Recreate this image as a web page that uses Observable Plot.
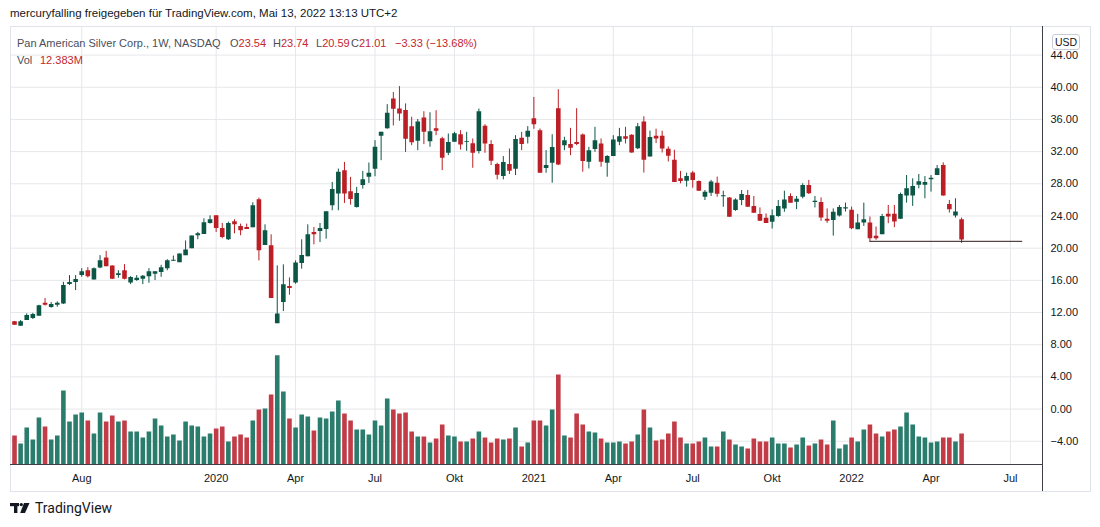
<!DOCTYPE html>
<html>
<head>
<meta charset="utf-8">
<script src="https://cdn.jsdelivr.net/npm/d3@7"></script>
<script src="https://cdn.jsdelivr.net/npm/@observablehq/plot@0.6"></script>
<style>
  body { margin: 0; background: #fff; font-family: "Liberation Sans", Arial, sans-serif; color: #131722; }
  #wrap { position: relative; width: 1100px; height: 527px; overflow: hidden; }
  #chart { position: absolute; left: 0; top: 0; }
  .abs { position: absolute; white-space: nowrap; }
  #hdr { left: 10px; top: 7px; font-size: 11.5px; color: #131722; }
  .lg { font-size: 11px; top: 37px; }
  .lg2 { font-size: 11px; top: 54px; }
  .gray { color: #4a4e59; }
  .red { color: #c4262e; }
  #usd { left: 1052px; top: 34px; width: 26px; height: 14px; border: 1px solid #c9ccd3; border-radius: 3px;
         background: #fff; font-size: 10.5px; line-height: 14px; text-align: center; color: #131722; }
  #frame { left: 10px; top: 26px; width: 1079px; height: 464px; border: 1px solid #e0e3eb; }
  #vline { left: 1042px; top: 26px; width: 1px; height: 465px; background: #3c3f48; }
  #hline { left: 10px; top: 464px; width: 1032px; height: 1px; background: #3c3f48; }
  #logo { left: 10px; top: 500px; font-size: 14px; font-family: Roboto, "Liberation Sans", sans-serif; color: #131722; display: flex; align-items: center; gap: 5px; }
</style>
</head>
<body>
<div id="wrap">
  <div id="chart"></div>
  <div id="frame" class="abs"></div>
  <div id="vline" class="abs"></div>
  <div id="hline" class="abs"></div>
  <div id="hdr" class="abs">mercuryfalling freigegeben für TradingView.com, Mai 13, 2022 13:13 UTC+2</div>
  <div class="abs lg gray" style="left:17px">Pan American Silver Corp., 1W, NASDAQ</div>
  <div class="abs lg" style="left:230px"><span class="gray">O</span><span class="red">23.54</span></div>
  <div class="abs lg" style="left:273px"><span class="gray">H</span><span class="red">23.74</span></div>
  <div class="abs lg" style="left:316px"><span class="gray">L</span><span class="red">20.59</span></div>
  <div class="abs lg" style="left:351px"><span class="gray">C</span><span class="red">21.01</span></div>
  <div class="abs lg red" style="left:395px">−3.33 (−13.68%)</div>
  <div class="abs lg2 gray" style="left:17px">Vol</div>
  <div class="abs lg2 red" style="left:40px">12.383M</div>
  <div id="usd" class="abs">USD</div>
  <div id="logo" class="abs">
    <svg width="20" height="12" viewBox="0 0 20 12">
      <rect x="0" y="1" width="9" height="3.2" fill="#131722"/>
      <rect x="4" y="1" width="3.4" height="10" fill="#131722"/>
      <circle cx="11.3" cy="2.6" r="1.7" fill="#131722"/>
      <polygon points="14,1 19.5,1 15,11 10.2,11" fill="#131722"/>
    </svg>
    <span>TradingView</span>
  </div>
</div>
<script>
// ---- data (weekly bars, first bar week of 2019-05-13) ----
const firstWeek = "2019-05-13";
const opens = [11.8,10.84,10.3,11.0,11.26,11.55,13.16,12.62,12.9,13.07,
15.47,15.72,16.59,17.2,16.05,17.54,18.78,17.79,16.59,17.2,
15.68,15.97,16.13,16.46,16.75,16.96,17.45,18.36,18.2,19.07,
19.93,21.55,21.71,23.07,24.02,22.45,21.04,23.28,22.7,22.57,
22.53,26.02,20.33,20.29,10.62,13.24,15.23,15.68,18.09,18.92,
21.95,22.07,22.32,25.27,26.72,29.63,27.01,25.06,27.8,28.8,
29.8,33.9,34.85,38.55,37.3,37.1,35.1,33.28,36.17,33.24,
34.85,33.6,31.79,33.16,34.1,33.12,32.99,32.0,35.14,32.87,
30.39,28.9,30.39,29.81,33.65,33.78,36.1,34.6,29.9,30.55,
37.33,32.74,32.87,33.12,34.07,30.68,32.25,32.95,30.55,31.38,
33.16,33.86,34.04,32.37,35.67,31.33,33.92,33.92,32.29,30.92,
28.63,28.33,29.33,28.29,26.33,26.83,28.08,26.38,26.25,24.67,
25.92,26.54,25.17,24.17,23.71,23.21,23.92,24.88,26.42,25.71,
26.33,27.79,25.67,25.67,23.58,23.45,24.0,24.86,24.7,22.3,
23.12,23.12,21.47,21.68,24.2,24.2,23.58,26.47,26.47,27.83,
27.83,28.5,29.03,30.27,25.44,23.99,23.54];
const highs = [11.85,10.9,11.0,11.83,11.9,12.9,13.74,13.24,13.32,15.76,
16.59,16.59,17.45,17.58,17.54,19.07,19.6,17.8,17.2,17.95,
16.46,16.59,16.59,17.45,17.08,17.87,18.57,19.02,19.27,20.9,
21.5,21.96,23.65,24.02,24.02,23.07,23.24,23.53,22.99,22.99,
25.64,26.22,22.9,21.66,17.8,17.93,16.3,18.42,21.04,22.9,
22.57,23.07,24.52,28.17,29.83,30.66,28.8,27.55,29.54,30.58,
33.36,34.4,37.84,39.34,40.08,37.93,36.27,36.0,36.96,36.83,
37.08,33.78,34.19,34.4,34.6,34.4,33.57,37.29,35.35,33.36,
30.55,31.38,32.33,33.98,34.4,35.1,38.73,34.81,32.12,34.1,
39.69,33.78,34.89,37.33,34.19,32.54,35.02,33.57,31.5,33.98,
34.89,35.02,34.1,35.5,36.33,34.54,34.79,34.54,32.58,32.17,
29.54,29.33,29.54,28.35,27.17,28.42,28.83,27.08,26.3,26.13,
27.17,27.17,26.42,25.0,24.25,24.75,25.92,27.08,26.75,26.42,
28.0,28.42,26.42,26.25,24.88,24.88,25.3,25.6,25.1,24.2,
25.6,23.87,22.63,24.2,25.31,25.31,26.84,29.03,28.62,29.16,
28.9,29.03,30.27,30.6,25.93,26.14,23.74];
const lows = [10.9,10.4,10.3,11.0,11.13,11.55,12.8,12.54,12.66,13.0,
15.35,14.73,16.38,16.3,16.05,17.45,17.7,16.1,16.26,16.05,
15.47,15.88,15.47,15.64,15.97,16.38,17.2,18.36,18.2,19.07,
19.93,21.05,21.71,22.99,21.96,21.16,20.95,21.78,21.54,22.32,
22.53,18.42,20.33,13.73,10.62,12.12,14.15,15.52,17.39,18.92,
20.41,20.7,21.12,24.65,24.65,25.56,25.35,24.98,27.34,28.05,
28.88,30.87,34.77,35.19,35.77,31.9,32.74,32.12,32.87,32.54,
33.98,29.64,31.5,33.16,32.2,32.04,29.93,31.7,31.79,30.26,
28.49,28.49,29.15,29.02,32.12,32.95,34.77,29.31,29.31,28.07,
30.26,32.12,31.5,32.74,29.44,29.85,31.92,30.06,28.82,31.38,
32.74,32.95,31.8,32.25,29.33,31.33,33.0,31.83,30.71,28.17,
28.0,27.58,27.46,27.05,25.92,26.42,26.33,25.08,23.83,24.58,
25.29,25.08,24.33,23.33,23.08,22.38,23.83,24.46,25.58,24.79,
26.13,26.67,25.0,23.33,23.08,21.5,23.87,24.49,22.3,22.3,
22.7,20.77,20.98,21.68,23.04,22.55,23.58,25.6,25.19,27.38,
26.14,26.97,29.03,26.47,24.36,23.74,20.59];
const closes = [10.95,10.43,10.84,11.63,11.75,12.83,12.9,12.99,13.16,15.35,
15.72,16.09,17.08,16.46,17.45,18.45,17.7,16.13,16.83,16.13,
16.34,16.26,16.5,17.08,17.08,17.58,18.45,18.49,19.27,19.77,
21.5,21.8,23.16,23.53,22.45,21.33,23.07,22.9,22.16,22.32,
25.27,19.67,22.16,13.73,11.83,15.44,14.98,18.17,19.09,21.66,
21.66,22.45,24.52,27.3,29.42,26.72,26.06,26.8,28.5,29.3,
32.53,34.4,36.76,37.26,36.68,33.53,33.1,35.68,34.4,34.48,
34.52,31.17,33.12,34.23,32.83,33.24,31.79,36.96,32.95,30.8,
29.07,30.64,29.56,33.49,32.87,34.52,35.35,29.31,30.26,32.5,
30.35,33.36,32.41,32.87,30.76,32.12,33.36,30.68,31.38,33.45,
33.86,33.53,31.83,35.08,30.92,33.75,33.58,32.33,31.42,28.17,
28.29,28.92,28.42,27.08,26.96,28.21,26.71,26.5,23.83,26.0,
26.67,25.08,24.33,23.33,23.08,24.04,25.17,26.0,25.58,26.08,
27.79,26.75,25.83,23.75,23.33,24.45,25.05,25.02,22.42,23.12,
23.54,21.18,21.18,23.95,23.87,23.25,26.68,27.38,27.67,28.25,
28.17,28.7,29.86,26.47,24.78,24.49,21.01];
// weekly volume, millions of shares
const volumes = [10.0,11.6,8.4,14.8,10.0,18.8,15.2,10.0,11.6,29.6,
17.2,20.0,20.8,17.6,12.4,20.8,17.2,19.6,17.2,17.6,
13.2,13.2,10.8,13.2,18.4,15.6,11.2,12.0,9.6,17.2,
15.6,15.2,11.2,12.4,14.4,15.2,9.2,11.2,12.0,10.8,
17.6,22.0,22.4,28.0,43.6,29.2,18.4,14.8,20.0,19.2,
13.6,18.8,18.4,21.2,25.6,20.4,17.6,14.0,14.0,12.0,
17.6,15.6,26.4,22.0,20.4,20.8,13.2,11.2,11.2,8.8,
10.4,16.0,11.6,11.2,9.2,9.2,10.4,13.2,10.8,8.8,
10.4,10.0,10.4,14.8,7.2,8.8,17.6,17.6,15.6,22.0,
36.0,11.6,10.8,20.4,16.0,13.2,12.8,10.4,8.8,8.8,
9.2,8.4,9.2,12.0,22.0,14.8,9.6,10.0,12.4,17.2,
10.8,8.4,8.4,9.2,10.8,7.2,7.2,13.2,10.0,8.0,
7.2,6.4,10.4,9.2,9.2,10.8,8.4,8.4,6.8,8.0,
10.8,7.6,8.4,10.0,8.0,17.6,6.4,8.0,10.8,9.2,
14.0,16.0,12.4,11.2,13.2,14.0,15.2,20.8,16.0,11.2,
10.8,8.8,9.2,10.8,10.8,9.2,12.383];
const monthTicks = ["2019-08-05","2020-01-06","2020-04-06","2020-07-06","2020-10-05","2021-01-04",
  "2021-04-05","2021-07-05","2021-10-04","2022-01-03","2022-04-04","2022-07-04"];
const monthLabels = ["Aug","2020","Apr","Jul","Okt","2021","Apr","Jul","Okt","2022","Apr","Jul"];
const priceTicks = [-4,0,4,8,12,16,20,24,28,32,36,40,44];
const supportLines = [{from: "2022-01-24", to: "2022-07-18", price: 20.85}];

// ---- styling / layout constants ----
const UP = "#0c5646", DOWN = "#bb1e24";
const VUP = "#2a7d6d", VDOWN = "#c13c47";
const VOL_BASE = -6.95;       // price-scale value at the pane bottom
const VOL_K = 0.3111;         // price units per million shares (volume overlay scale)

const t0 = new Date(firstWeek + "T00:00:00Z");
const bars = opens.map((o, i) => ({
  date: new Date(Date.UTC(t0.getUTCFullYear(), t0.getUTCMonth(), t0.getUTCDate() + 7 * i)),
  open: o, high: highs[i], low: lows[i], close: closes[i], volume: volumes[i]
}));
const tickDates = monthTicks.map(s => new Date(s + "T00:00:00Z"));
const labelOf = new Map(tickDates.map((d, i) => [+d, monthLabels[i]]));
const lines = supportLines.map(s => ({x1: new Date(s.from + "T00:00:00Z"), x2: new Date(s.to + "T00:00:00Z"), y: s.price}));
const up = d => d.close >= d.open;

const plot = Plot.plot({
  width: 1100, height: 527,
  marginLeft: 10, marginRight: 58, marginTop: 26, marginBottom: 62.5,
  style: {background: "transparent", fontFamily: "'Liberation Sans', Arial, sans-serif", color: "#131722"},
  x: {type: "utc", domain: [new Date("2019-05-15T09:45:00Z"), new Date("2022-08-09T17:00:00Z")]},
  y: {domain: [-6.95, 47.55]},
  marks: [
    Plot.gridY(priceTicks, {stroke: "#e6e7ea", strokeOpacity: 1}),
    Plot.gridX(tickDates, {stroke: "#e6e7ea", strokeOpacity: 1}),
    Plot.ruleX(bars, {x: "date", y1: VOL_BASE, y2: d => VOL_BASE + d.volume * VOL_K,
      stroke: d => up(d) ? VUP : VDOWN, strokeWidth: 4.6, clip: true}),
    Plot.ruleX(bars, {x: "date", y1: "low", y2: "high", stroke: d => up(d) ? UP : DOWN, strokeWidth: 1, clip: true}),
    Plot.ruleX(bars, {x: "date", y1: "open", y2: "close", stroke: d => up(d) ? UP : DOWN, strokeWidth: 4.6, clip: true}),
    Plot.ruleY(lines, {x1: "x1", x2: "x2", y: "y", stroke: "#2b1a1a", strokeWidth: 1}),
    Plot.axisY(priceTicks, {anchor: "right", tickSize: 0, tickPadding: 8, fontSize: 11,
      tickFormat: d3.format(".2f"), fill: "#131722", label: null}),
    Plot.axisX(tickDates, {anchor: "bottom", tickSize: 0, tickPadding: 9.5, fontSize: 11,
      tickFormat: d => labelOf.get(+d), fill: "#131722", label: null})
  ]
});
document.getElementById("chart").appendChild(plot);
</script>
</body>
</html>
